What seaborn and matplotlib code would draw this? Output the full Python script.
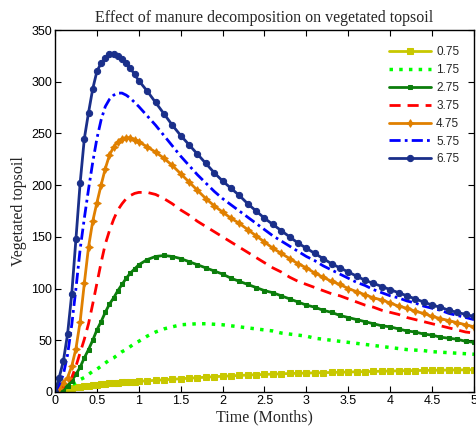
import matplotlib
matplotlib.use("Agg")
import matplotlib.pyplot as plt
import seaborn as sns

# time (months)
time = [0, 0.05, 0.1, 0.15, 0.2, 0.25, 0.3, 0.35, 0.4, 0.45, 0.5, 0.55, 0.6, 0.65, 0.7,
        0.75, 0.8, 0.85, 0.9, 0.95, 1.0,
        1.1, 1.2, 1.3, 1.4, 1.5, 1.6, 1.7, 1.8, 1.9, 2.0,
        2.1, 2.2, 2.3, 2.4, 2.5, 2.6, 2.7, 2.8, 2.9, 3.0,
        3.1, 3.2, 3.3, 3.4, 3.5, 3.6, 3.7, 3.8, 3.9, 4.0,
        4.1, 4.2, 4.3, 4.4, 4.5, 4.6, 4.7, 4.8, 4.9, 5.0]

# vegetated topsoil for each manure decomposition rate
v075 = [0, 1.5, 2.5, 3.5, 4, 4.5, 5, 5.5, 6, 6.5, 7, 7.5, 8, 8.3, 8.6, 9, 9.2, 9.5, 9.8, 10, 10.3,
        10.8, 11.3, 11.8, 12.3, 12.8, 13.3, 13.8, 14.3, 14.8, 15.2,
        15.6, 16, 16.4, 16.7, 17, 17.3, 17.6, 17.9, 18.1, 18.3,
        18.5, 18.7, 18.9, 19.1, 19.3, 19.5, 19.7, 19.9, 20.1, 20.3,
        20.4, 20.6, 20.7, 20.9, 21, 21.1, 21.2, 21.3, 21.4, 21.5]
v175 = [0, 1, 3, 5, 7, 9, 12, 14, 17, 20, 22, 25, 28, 31, 33, 36, 39, 41, 44, 47, 49,
        54, 58, 61, 63, 65, 65.5, 66, 66, 65.5, 65,
        64, 63, 62, 61, 60, 59, 57, 56, 55, 54,
        52, 51, 50, 49, 48, 47, 46, 45, 44, 43,
        42, 41, 40.5, 40, 39, 38.5, 38, 37.5, 37, 36.5]
v275 = [0, 1, 3, 6, 11, 17, 24, 33, 41, 50, 60, 68, 77, 85, 91, 98, 104, 110, 115, 119, 123,
        128, 131, 132, 131, 129, 126, 123, 120, 117, 114,
        110, 107, 104, 101, 98, 96, 93, 90, 87, 84,
        82, 79, 77, 74, 72, 70, 68, 66, 64, 63,
        61, 59, 58, 56, 55, 53, 52, 51, 49, 48]
v375 = [0, 2, 5, 9, 14, 25, 38, 51, 66, 85, 105, 125, 143, 156, 167, 176, 182, 187, 190, 192, 193,
        193, 191, 187, 182, 176, 171, 165, 160, 155, 150,
        145, 140, 135, 130, 125, 120, 116, 111, 107, 104,
        101, 98, 95, 93, 90, 87, 84, 82, 79, 77,
        75, 72, 70, 68, 66, 64, 62, 60, 58, 57]
v475 = [0, 4, 9, 14, 25, 42, 68, 105, 140, 165, 183, 200, 216, 229, 237, 242, 245, 246, 246, 244, 242,
        237, 232, 226, 219, 211, 203, 195, 187, 180, 174,
        168, 163, 157, 151, 145, 139, 134, 129, 124, 120,
        115, 111, 107, 104, 100, 97, 94, 91, 89, 86,
        83, 81, 78, 76, 73, 71, 69, 67, 65, 63]
v575 = [0, 7, 17, 36, 65, 100, 138, 168, 196, 222, 245, 263, 276, 283, 287, 289, 289, 287, 284, 280, 276,
        267, 258, 248, 238, 228, 219, 210, 202, 194, 187,
        181, 175, 169, 163, 157, 151, 146, 141, 136, 131,
        127, 122, 118, 114, 110, 106, 103, 99, 96, 93,
        91, 88, 86, 83, 81, 79, 76, 74, 72, 70]
v675 = [0, 14, 30, 56, 95, 148, 202, 245, 270, 293, 310, 318, 323, 327, 327, 325, 322, 318, 313, 307, 301,
        291, 280, 269, 258, 248, 239, 230, 221, 212, 204,
        197, 190, 182, 175, 168, 162, 156, 150, 144, 139,
        134, 129, 124, 120, 116, 112, 108, 105, 102, 99,
        96, 93, 90, 87, 84, 82, 79, 77, 75, 73]

labels = ["0.75", "1.75", "2.75", "3.75", "4.75", "5.75", "6.75"]
series = [v075, v175, v275, v375, v475, v575, v675]
styles = [
    dict(color="#c8c800", linestyle="-", marker="s", markersize=4.5, linewidth=2),
    dict(color="#00ff00", linestyle=(0, (1, 1.8)), marker=None, linewidth=2.5),
    dict(color="#0b7d0b", linestyle="-", marker="s", markersize=3, linewidth=2),
    dict(color="#ff0000", linestyle=(0, (4, 2.5)), marker=None, linewidth=2),
    dict(color="#e08000", linestyle="-", marker=(4, 1, 0), markersize=5.5, linewidth=2),
    dict(color="#0000ff", linestyle=(0, (4, 1.5, 1, 1.5)), marker=None, linewidth=2),
    dict(color="#1a2f8a", linestyle="-", marker="o", markersize=4.5, linewidth=2),
]

sns.set_style("ticks")
plt.rcParams["font.family"] = ["Liberation Sans", "DejaVu Sans"]

fig = plt.figure(figsize=(4.77, 4.33), dpi=100)
ax = fig.add_axes([0.1153, 0.0947, 0.8784, 0.836])

for lab, vals, st in zip(labels, series, styles):
    sns.lineplot(x=time, y=vals, ax=ax, label=lab, markeredgecolor=st["color"], **st)

ax.set_xlim(0, 5)
ax.set_ylim(0, 350)
ax.set_xticks([0, 0.5, 1, 1.5, 2, 2.5, 3, 3.5, 4, 4.5, 5])
ax.set_xticklabels(["0", "0.5", "1", "1.5", "2", "2.5", "3", "3.5", "4", "4.5", "5"])
ax.set_yticks(range(0, 351, 50))
ax.tick_params(direction="in", top=True, right=True, length=4, width=0.8,
               labelsize=9, pad=2, colors="black")
for sp in ax.spines.values():
    sp.set_linewidth(1)
    sp.set_color("black")

serif = ["Liberation Serif", "DejaVu Serif"]
ax.set_title("Effect of manure decomposition on vegetated topsoil",
             family=serif, fontsize=11.5, pad=6)
ax.set_xlabel("Time (Months)", family=serif, fontsize=11.5, labelpad=2)
ax.set_ylabel("Vegetated topsoil", family=serif, fontsize=11.5, labelpad=3)

ax.legend(loc="upper right", frameon=False, fontsize=8.5, handlelength=3.6,
          labelspacing=0.5, handletextpad=0.4, borderaxespad=0.5,
          bbox_to_anchor=(0.99, 0.985))

fig.savefig("out.png", dpi=100)
plt.close(fig)
